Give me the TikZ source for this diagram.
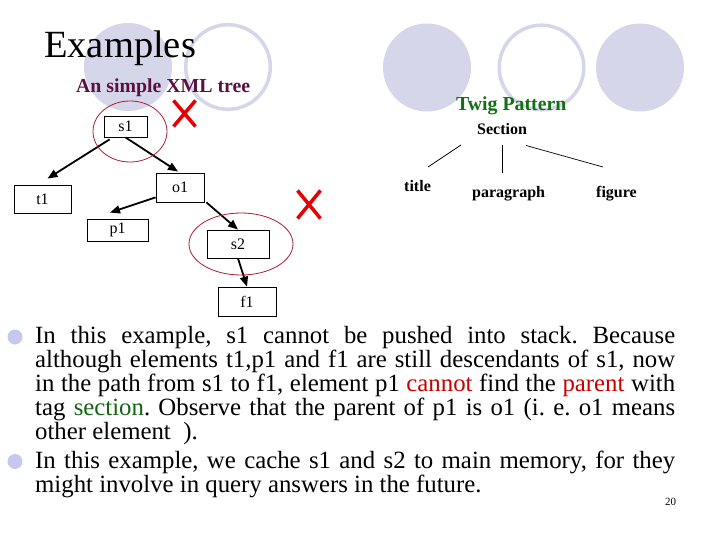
\documentclass[tikz,border=0pt]{standalone}
\usepackage{fontspec}
\setmainfont{Liberation Serif}
\usetikzlibrary{arrows.meta,calc}
\definecolor{deco}{RGB}{214,214,234}
\definecolor{bul}{RGB}{200,200,238}
\definecolor{titlemaroon}{RGB}{90,16,64}
\definecolor{twiggreen}{RGB}{20,110,20}
\definecolor{txtred}{RGB}{200,0,0}
\definecolor{txtgreen}{RGB}{20,100,20}
\definecolor{ellred}{RGB}{170,30,50}
\definecolor{xred}{RGB}{230,0,0}
\hbadness=10000
\frenchspacing
\begin{document}
\begin{tikzpicture}[x=1bp,y=-1bp,
  treebox/.style={draw,line width=0.8bp,inner sep=0pt,font=\fontsize{16bp}{16bp}\selectfont},
  arr/.style={line width=1.8bp,-{Triangle[length=10bp,width=8bp]}},
  lbl/.style={inner sep=0pt,anchor=base west},
  twiglbl/.style={lbl,font=\fontsize{16bp}{16bp}\selectfont\bfseries},
  body/.style={inner sep=0pt,anchor=base west,font=\fontsize{24.8bp}{24.8bp}\selectfont},
  ellipsemark/.style={ellred,line width=0.8bp},
  xmark/.style={xred,line width=3.5bp},
  twigline/.style={line width=0.7bp},
  decoring/.style={deco,line width=3.5bp}]
\useasboundingbox[fill=white] (0,0) rectangle (720,540);

% decorative circles
\fill[deco] (128,67) circle[radius=44bp];
\draw[decoring] (228,67) circle[radius=42.3bp];
\fill[deco] (427,67.5) circle[radius=44bp];
\draw[decoring] (541.5,67.5) circle[radius=42.3bp];
\fill[deco] (640,67.5) circle[radius=44bp];

% title
\node[lbl,font=\fontsize{38.5bp}{38.5bp}\selectfont] (title) at (44,58) {Examples};
\node[lbl,font=\fontsize{19.8bp}{19.8bp}\selectfont\bfseries,text=titlemaroon] (xmltitle) at (76,93) {An simple XML tree};

% tree
\node[treebox,minimum width=43bp,minimum height=21bp] (s1) at (125.5,126.5) {s1};
\node[treebox,minimum width=57bp,minimum height=28bp] (t1) at (42.5,199) {t1};
\node[treebox,minimum width=48bp,minimum height=29bp] (o1) at (180,187.5) {o1};
\node[treebox,minimum width=61bp,minimum height=22bp] (p1) at (117.5,230) {p1};
\node[treebox,minimum width=62bp,minimum height=28bp] (s2) at (238,244) {s2};
\node[treebox,minimum width=58bp,minimum height=29bp] (f1) at (247,301.5) {f1};

\draw[arr] ($(s1.south west)+(6,2)$) -- ($(t1.north)+(5,-6)$);
\draw[arr] (s1.south) -- ($(o1.north)+(-2,-1)$);
\draw[arr] ($(o1.south west)+(0,-5)$) -- ($(p1.north)+(-7.5,-6)$);
\draw[arr] ($(o1.south east)+(2,0)$) -- (s2.north);
\draw[arr] (s2.south) -- (f1.north);

\draw[ellipsemark] (130,131.5) ellipse[x radius=37bp,y radius=30.5bp];
\draw[ellipsemark] (241,244) ellipse[x radius=52bp,y radius=31bp];

\draw[xmark] (173.5,100.5) -- (195.5,126.5) (195.5,100.5) -- (173.5,126.5);
\draw[xmark] (297.5,190.5) -- (320.5,218.5) (320.5,190.5) -- (297.5,218.5);

% twig pattern
\node[lbl,font=\fontsize{19.8bp}{19.8bp}\selectfont\bfseries,text=twiggreen] (twig) at (456,111) {Twig Pattern};
\node[twiglbl] (sec) at (477,135) {Section};
\node[twiglbl] (ttl) at (404,192) {title};
\node[twiglbl] (par) at (472,198) {paragraph};
\node[twiglbl] (fig) at (596,198) {figure};
\draw[twigline] ($(sec.base west)+(-16,10)$) -- ($(ttl.base west)+(24,-25)$);
\draw[twigline] ($(sec.base west)+(25,10)$) -- ($(par.base west)+(30,-25)$);
\draw[twigline] ($(sec.base west)+(49,10.5)$) -- ($(fig.base west)+(7,-31)$);

% bullets
\fill[bul] (15,337) circle[radius=7.5bp];
\fill[bul] (15,461.5) circle[radius=7.5bp];

\node[body] (l1) at (35,343) {\makebox[640bp][s]{In this example, s1 cannot be pushed into stack. Because}};
\node[body] (l2) at (35,367.5) {\makebox[640bp][s]{although elements t1,p1 and f1 are still descendants of s1, now}};
\node[body] (l3) at (35,391.5) {\makebox[640bp][s]{in the path from s1 to f1, element p1 \textcolor{txtred}{cannot} find the \textcolor{txtred}{parent} with}};
\node[body] (l4) at (35,415.5) {\makebox[640bp][s]{tag \textcolor{txtgreen}{section}. Observe that the parent of p1 is o1 (i. e. o1 means}};
\node[body] (l5) at (35,439.5) {other element\ \ ).};
\node[body] (l6) at (35,468) {\makebox[640bp][s]{In this example, we cache s1 and s2 to main memory, for they}};
\node[body] (l7) at (35,492) {might involve in query answers in the future.};

\node[lbl,font=\fontsize{11bp}{11bp}\selectfont] (pg) at (665,505) {20};
\end{tikzpicture}
\end{document}
